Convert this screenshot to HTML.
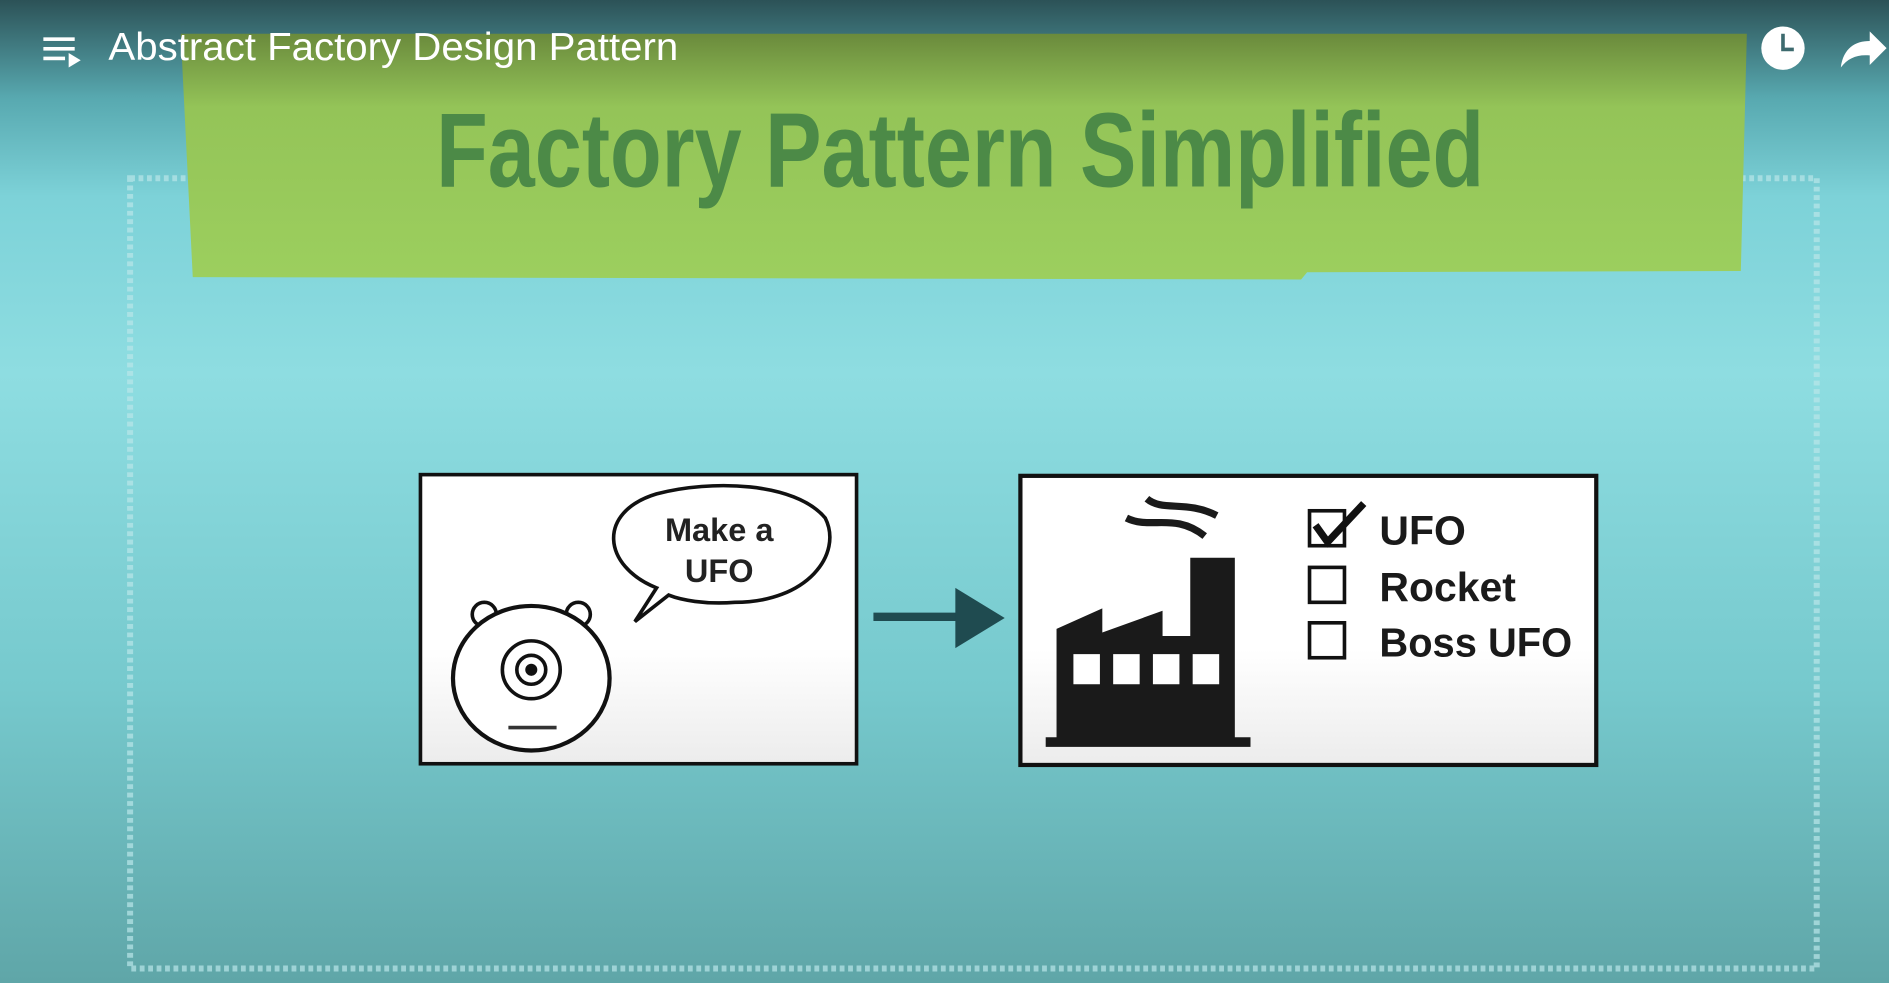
<!DOCTYPE html>
<html><head><meta charset="utf-8"><style>
html,body{margin:0;padding:0;width:1889px;height:983px;overflow:hidden;background:#7fd0d5}
svg{display:block}
</style></head><body>
<svg width="1889" height="983" viewBox="0 0 1568 816" preserveAspectRatio="none" xmlns="http://www.w3.org/2000/svg">
<defs>
<linearGradient id="bg" x1="0" y1="0" x2="0" y2="1">
<stop offset="0" stop-color="#2c5257"/>
<stop offset="0.1" stop-color="#58a9b0"/>
<stop offset="0.2" stop-color="#7dd2d8"/>
<stop offset="0.38" stop-color="#8edde1"/>
<stop offset="0.7" stop-color="#76c9cd"/>
<stop offset="1" stop-color="#5fa6a8"/>
</linearGradient>
<linearGradient id="gr" x1="0" y1="0" x2="0" y2="1">
<stop offset="0" stop-color="#6a8a3c"/>
<stop offset="0.3" stop-color="#94c458"/>
<stop offset="1" stop-color="#9ccf5e"/>
</linearGradient>
<linearGradient id="wb" x1="0" y1="0" x2="0" y2="1">
<stop offset="0.6" stop-color="#ffffff"/>
<stop offset="1" stop-color="#ececec"/>
</linearGradient>
</defs>
<rect width="1568" height="816" fill="url(#bg)"/>
<rect x="108" y="148" width="1400" height="656" fill="none" stroke="#b9e6e8" stroke-width="5" stroke-dasharray="4 3" opacity="0.7"/>
<polygon points="150,28 1450,28 1445,225 1085,226 1080,232 160,230" fill="url(#gr)"/>
<text x="797" y="155" text-anchor="middle" font-family="'Liberation Sans Narrow','Liberation Sans',sans-serif" font-weight="bold" font-size="88" fill="#4c8a47" textLength="870" lengthAdjust="spacingAndGlyphs">Factory Pattern Simplified</text>
<g fill="#fff">
<rect x="36" y="31" width="26" height="3"/><rect x="36" y="39" width="26" height="3"/><rect x="36" y="47" width="18" height="3"/>
<polygon points="57,44 67,50 57,56"/>
</g>
<text x="90" y="50" font-family="'Liberation Sans',sans-serif" font-size="32" fill="#fff" textLength="473" lengthAdjust="spacingAndGlyphs">Abstract Factory Design Pattern</text>
<circle cx="1480" cy="40" r="18" fill="#fff"/>
<path d="M1480 28 V41 H1489" stroke="#3d6a6e" stroke-width="3" fill="none"/>
<path d="M1528 56 C1530 40 1540 34 1552 34 V26 L1566 40 L1552 54 V46 C1542 45 1534 48 1528 56Z" fill="#fff"/>
<rect x="349" y="394" width="362" height="240" fill="url(#wb)" stroke="#111" stroke-width="3"/>
<path d="M545 488 C500 470 495 425 545 410 C590 398 660 400 685 430 C700 460 670 500 610 500 C585 502 565 498 555 494 L527 516 L545 488Z" fill="#fff" stroke="#111" stroke-width="3"/>
<g font-family="'Liberation Sans',sans-serif" font-size="27" fill="#222" text-anchor="middle" font-weight="bold">
<text x="597" y="449">Make a</text><text x="597" y="483">UFO</text></g>
<circle cx="402" cy="510" r="10" fill="#fff" stroke="#111" stroke-width="3"/>
<circle cx="480" cy="510" r="10" fill="#fff" stroke="#111" stroke-width="3"/>
<ellipse cx="441" cy="563" rx="65" ry="60" fill="#fff" stroke="#111" stroke-width="3.5"/>
<circle cx="441" cy="556" r="24" fill="none" stroke="#111" stroke-width="3"/>
<circle cx="441" cy="556" r="12" fill="none" stroke="#111" stroke-width="3"/>
<circle cx="441" cy="556" r="5" fill="#111"/>
<line x1="422" y1="604" x2="462" y2="604" stroke="#333" stroke-width="3"/>
<line x1="725" y1="512" x2="800" y2="512" stroke="#1f4b50" stroke-width="7"/>
<polygon points="793,488 834,513 793,538" fill="#1f4b50"/>
<rect x="847" y="395" width="478" height="240" fill="url(#wb)" stroke="#111" stroke-width="3.5"/>
<rect x="868" y="612" width="170" height="8" fill="#1a1a1a"/>
<polygon points="877,614 877,522 915,505 915,525 965,507 965,528 988,528 988,463 1025,463 1025,614" fill="#1a1a1a"/>
<g fill="#fff"><rect x="891" y="543" width="22" height="25"/><rect x="924" y="543" width="22" height="25"/><rect x="957" y="543" width="22" height="25"/><rect x="990" y="543" width="22" height="25"/></g>
<path d="M952 414 C965 425 985 415 1010 428 M935 430 C955 440 975 425 1000 445" stroke="#1a1a1a" stroke-width="6" fill="none"/>
<g fill="none" stroke="#111" stroke-width="3">
<rect x="1087" y="424" width="29" height="29"/><rect x="1087" y="471" width="29" height="29"/><rect x="1087" y="517" width="29" height="29"/>
</g>
<path d="M1092 436 L1102 450 L1132 418" stroke="#111" stroke-width="6" fill="none"/>
<g font-family="'Liberation Sans',sans-serif" font-size="34" fill="#1a1a1a" font-weight="bold">
<text x="1145" y="452">UFO</text><text x="1145" y="499">Rocket</text><text x="1145" y="545" textLength="160" lengthAdjust="spacingAndGlyphs">Boss UFO</text></g>
</svg>
</body></html>
